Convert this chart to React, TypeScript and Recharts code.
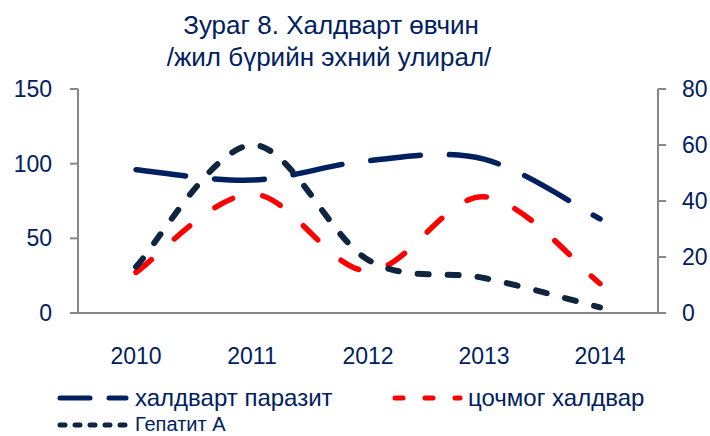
import React from 'react';
import { LineChart, Line, XAxis, YAxis } from 'recharts';

// first quarter of each year
const years = ['2010', '2011', '2012', '2013', '2014'];
const parasitic = [96, 89, 102, 103, 63]; // left axis
const acute = [14.5, 42.5, 15, 41.5, 10.5]; // right axis
const hepatitisA = [16.5, 60, 19, 12.5, 2]; // right axis

const leftTicks = [0, 50, 100, 150];
const rightTicks = [0, 20, 40, 60, 80];
const bandEdges = [-0.5, 0.5, 1.5, 2.5, 3.5, 4.5];
const yearIdx = [0, 1, 2, 3, 4];

const data = years.map((y, i) => ({
  idx: i,
  year: y,
  parasitic: parasitic[i],
  acute: acute[i],
  hepatitisA: hepatitisA[i],
}));

const NAVY = '#002060';
const FONT = '"Liberation Sans", Arial, sans-serif';

// excel style smoothing (catmull-rom)
const excelSmooth = (context: any) => {
  let pts: number[][] = [];
  return {
    areaStart() {},
    areaEnd() {},
    lineStart() {
      pts = [];
    },
    lineEnd() {
      if (!pts.length) return;
      context.moveTo(pts[0][0], pts[0][1]);
      for (let i = 0; i < pts.length - 1; i++) {
        const p0 = pts[i - 1] || pts[i];
        const p1 = pts[i];
        const p2 = pts[i + 1];
        const p3 = pts[i + 2] || p2;
        context.bezierCurveTo(
          p1[0] + (p2[0] - p0[0]) / 6,
          p1[1] + (p2[1] - p0[1]) / 6,
          p2[0] - (p3[0] - p1[0]) / 6,
          p2[1] - (p3[1] - p1[1]) / 6,
          p2[0],
          p2[1]
        );
      }
    },
    point(x: number, y: number) {
      pts.push([x, y]);
    },
  };
};

const tickStyle = { fill: NAVY, fontSize: 23, fontFamily: FONT };

export default function App() {
  return (
    <div style={{ position: 'absolute', left: 0, top: 0, width: 710, height: 436, background: '#fff', overflow: 'hidden' }}>
      <LineChart width={710} height={436} data={data} margin={{ top: 89, right: 0, left: 0, bottom: 65 }}>
        <XAxis
          dataKey="idx"
          type="number"
          domain={[-0.5, 4.5]}
          ticks={bandEdges}
          interval={0}
          tick={false}
          height={8}
          tickSize={8}
          stroke="#868686"
          strokeWidth={2}
        />
        <XAxis
          xAxisId="labels"
          dataKey="idx"
          type="number"
          domain={[-0.5, 4.5]}
          ticks={yearIdx}
          interval={0}
          tickFormatter={(v: number) => years[v]}
          axisLine={false}
          tickLine={false}
          height={50}
          tickMargin={21}
          tick={tickStyle}
        />
        <YAxis
          yAxisId="left"
          domain={[0, 150]}
          ticks={leftTicks}
          width={78}
          tickSize={8}
          tickMargin={18}
          stroke="#868686"
          strokeWidth={2}
          tick={tickStyle}
        />
        <YAxis
          yAxisId="right"
          orientation="right"
          domain={[0, 80]}
          ticks={rightTicks}
          width={52}
          tickSize={8}
          tickMargin={16}
          stroke="#868686"
          strokeWidth={2}
          tick={tickStyle}
        />
        <Line
          yAxisId="left"
          dataKey="parasitic"
          type={excelSmooth as any}
          stroke={NAVY}
          strokeWidth={5.5}
          strokeDasharray="50 29"
          strokeLinecap="round"
          dot={false}
          isAnimationActive={false}
        />
        <Line
          yAxisId="right"
          dataKey="acute"
          type={excelSmooth as any}
          stroke="#ff0000"
          strokeWidth={5.5}
          strokeDasharray="20 31"
          strokeLinecap="round"
          dot={false}
          isAnimationActive={false}
        />
        <Line
          yAxisId="right"
          dataKey="hepatitisA"
          type={excelSmooth as any}
          stroke="#0f243e"
          strokeWidth={6}
          strokeDasharray="11 19"
          strokeLinecap="round"
          dot={false}
          isAnimationActive={false}
        />
      </LineChart>

      <svg width={710} height={436} style={{ position: 'absolute', left: 0, top: 0, pointerEvents: 'none' }}>
        <g fill={NAVY} fontFamily={FONT} fontSize={26} textAnchor="middle">
          <text x={331} y={34}>Зураг 8. Халдварт өвчин</text>
          <text x={329} y={66}>/жил бүрийн эхний улирал/</text>
        </g>
        <g strokeLinecap="round">
          <line x1={60} y1={398} x2={126} y2={398} stroke={NAVY} strokeWidth={5} strokeDasharray="30 19" />
          <line x1={395} y1={398} x2={460} y2={398} stroke="#ff0000" strokeWidth={5} strokeDasharray="8 22" />
          <line x1={60} y1={425} x2={126} y2={425} stroke="#0f243e" strokeWidth={5} strokeDasharray="5 10" />
        </g>
        <g fill={NAVY} fontFamily={FONT} fontSize={24}>
          <text x={135} y={406}>халдварт паразит</text>
          <text x={468} y={406}>цочмог халдвар</text>
          <text x={135} y={431} fontSize={20}>Гепатит А</text>
        </g>
      </svg>
    </div>
  );
}
